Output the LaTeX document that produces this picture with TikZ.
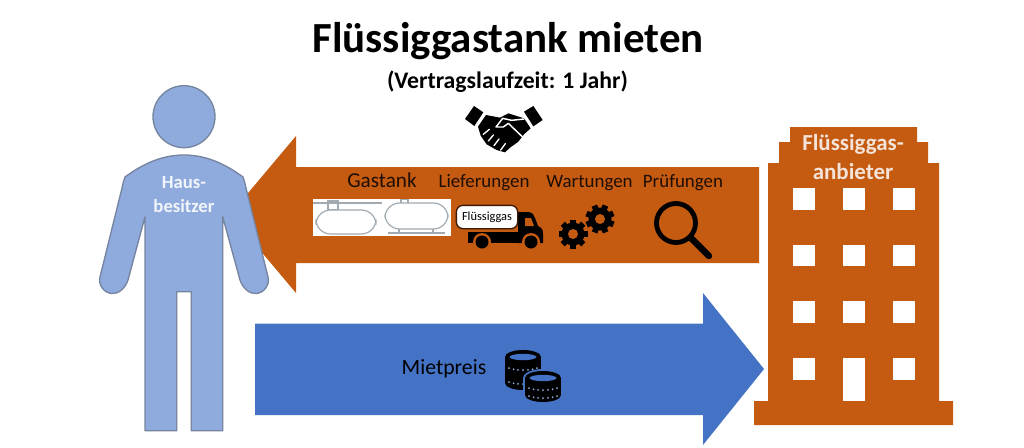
\documentclass[tikz,border=0pt]{standalone}
\usepackage{fontspec}
\setmainfont{Carlito}
\definecolor{orangefill}{HTML}{C55A11}
\definecolor{bluefill}{HTML}{4472C4}
\definecolor{personfill}{HTML}{8FAADC}
\definecolor{personline}{HTML}{76859F}
\definecolor{tankline}{HTML}{A0AAB0}
\definecolor{lightlabel}{HTML}{F3E3D8}
\tikzset{
  orangeshape/.style={fill=orangefill,draw=none},
  window/.style={fill=white,draw=none},
  person/.style={fill=personfill,draw=personline,line width=1pt,line join=round},
  icon/.style={fill=black,draw=none},
  tankdraw/.style={draw=tankline,line width=0.9pt,fill=white},
  toplabel/.style={inner sep=0pt,text=black!85!orangefill,font=\fontsize{14.2}{16}\selectfont},
  whitelabel/.style={inner sep=0pt,align=center,font=\bfseries\fontsize{14}{18}\selectfont,text=white!88!personfill},
}
\begin{document}
\begin{tikzpicture}[x=0.75pt,y=-0.75pt]
\useasboundingbox (0,0) rectangle (1024,447);
\fill[white] (0,0) rectangle (1024,447);

% Titles
\node[inner sep=0pt,font=\bfseries\fontsize{32.2}{34}\selectfont] (title) at (508,41) {Flüssiggastank mieten};
\node[inner sep=0pt,font=\bfseries\fontsize{17.8}{20}\selectfont] (subtitle) at (507.5,81.5) {(Vertragslaufzeit: 1 Jahr)};

% Handshake
\begin{scope}[shift={(450,95)},x=0.25pt,y=-0.25pt]
  \fill[icon] (45,72) -- (72,33) -- (100,52) -- (73,93) -- cycle;
  \fill[icon] (222,50) -- (250,33) -- (278,75) -- (250,94) -- cycle;
  \fill[icon] (84,95) -- (108,60) -- (150,68) -- (175,55) -- (222,70) -- (242,100) -- (222,118) -- (205,140) -- (180,158) -- (165,172) -- (140,165) -- (110,148) -- (92,122) -- cycle;
  \draw[white,line width=1.1pt,line cap=round,line join=round] (222,72) -- (185,76) -- (158,70) -- (138,96) -- (160,96) -- (175,85) -- (222,130);
  \draw[white,line width=1pt,line cap=round] (100,118) -- (118,103) (115,138) -- (130,120) (132,152) -- (147,132) (152,165) -- (166,146);
\end{scope}

% Orange arrow
\fill[orangeshape] (230,214.5) -- (296,136) -- (296,167) -- (759,167) -- (759,263) -- (296,263) -- (296,293) -- cycle;

% Blue arrow
\fill[bluefill] (255,323.5) -- (703,323.5) -- (703,293) -- (764,369) -- (703,445) -- (703,415) -- (255,415) -- cycle;

% Person
\draw[person] (184,116.7) circle (31);
\draw[person] (176.7,430.7) -- (176.7,291.7) -- (191.3,291.7) -- (191.3,430.7) -- (222.7,430.7) -- (222.7,216.7)
  -- (240,280) .. controls (243,289) and (250,294) .. (256,293.5) .. controls (264,293) and (270,285) .. (268,277)
  -- (246,188) .. controls (245,183) and (244,180) .. (243,177) .. controls (224,163) and (205,155) .. (184,155)
  .. controls (163,155) and (144,163) .. (125,177) .. controls (124,180) and (123,183) .. (122,188)
  -- (100,277) .. controls (98,285) and (104,293) .. (112,293.5) .. controls (118,294) and (125,289) .. (128,280)
  -- (145,216.7) -- (145,430.7) -- cycle;
\node[whitelabel] (owner) at (184,195) {Haus-\\besitzer};

% Building
\fill[orangeshape] (790,127) -- (917,127) -- (917,142) -- (928,142) -- (928,163) -- (939,163) -- (939,401) -- (953,401) -- (953,425) -- (754,425) -- (754,401) -- (768,401) -- (768,163) -- (779,163) -- (779,142) -- (790,142) -- cycle;
\foreach \wy in {188,244.5,301,358}{
  \foreach \wx in {793,843,893}{
    \fill[window] (\wx,\wy) rectangle ++(22,21.5);
  }
}
\fill[window] (843,358) rectangle (865,401);
\node[inner sep=0pt,align=center,font=\bfseries\fontsize{17.2}{22}\selectfont,text=lightlabel] (provider) at (853,157) {Flüssiggas-\\anbieter};

% Labels in the orange arrow
\node[toplabel,font=\fontsize{15.9}{18}\selectfont] (gastank) at (382,180.5) {Gastank};
\node[toplabel] (liefer) at (484,183) {Lieferungen};
\node[toplabel] (wart) at (589.5,183) {Wartungen};
\node[toplabel] (pruef) at (683,183) {Prüfungen};

% Tank picture
\fill[white] (313,199) rectangle (451,236);
\draw[tankdraw] (328,201) rectangle (338,210);
\draw[tankline,line width=0.9pt] (313,203) -- (382,203);
\draw[tankdraw,rounded corners=11pt] (316,210) rectangle (376,234);
\draw[tankdraw] (401,199.5) rectangle (408,204);
\draw[tankdraw,rounded corners=11pt] (385,203) rectangle (448,229);
\draw[tankline,line width=1.2pt] (388,233) -- (445,233);
\draw[tankline,line width=1pt] (399,229) -- (399,233) (433,229) -- (433,233);

% Truck
\fill[icon] (468,232) rectangle (520,243);
\fill[icon] (518,212) -- (529,212) .. controls (532,212) and (533,214) .. (535,218) -- (538,226) .. controls (542,228) and (543,230) .. (543,234) -- (543,243) -- (518,243) -- cycle;
\fill[orangefill] (525,218) -- (531,218) -- (534,226) -- (525,226) -- cycle;
\fill[orangefill] (482,242) circle (9) (531,242) circle (9);
\fill[icon] (482,242) circle (6.5) (531,242) circle (6.5);
\node[draw=black!70!orangefill,fill=white,line width=1pt,rounded corners=5pt,minimum width=46pt,minimum height=17.5pt,inner sep=0pt,font=\fontsize{9.3}{10}\selectfont] (gaslabel) at (487,217) {Flüssiggas};

% Gears
\foreach \gx/\gy/\gr in {573/234/0,600/219/22}{
  \fill[icon] (\gx,\gy) circle (11.5);
  \foreach \ga in {0,45,...,315}{
    \draw[black,line width=4.4pt] (\gx,\gy) ++(\ga+\gr:8) -- ++(\ga+\gr:6.5);
  }
  \fill[orangefill] (\gx,\gy) circle (5);
}

% Magnifier
\draw[black,line width=3.6pt] (676,223) circle (19.5);
\draw[black,line width=4.8pt,line cap=round] (690.5,237.5) -- (709,256);

% Rent label
\node[inner sep=0pt,text=black,font=\fontsize{16.3}{18}\selectfont] (rent) at (444,369) {Mietpreis};

% Coins
\newcommand{\coinstack}[4]{% x, top y, bottom y, dot rows
  \fill[icon] (#1-18,#2) rectangle (#1+18,#3);
  \fill[icon] (#1,#2) ellipse (18 and 7);
  \fill[icon] (#1,#3) ellipse (18 and 7);
  \fill[bluefill] (#1,#2) ellipse (13.5 and 3.2);
  \foreach \row in {#4}{
    \foreach \dx in {-14,-9.5,-5,0,5,9.5,14}{
      \fill[bluefill!60!white] (#1+\dx,{#2+\row+5*sqrt(1-(\dx/18)*(\dx/18))}) circle (1);
    }
  }
}
\coinstack{523}{357}{383}{8,22}
\fill[bluefill] (543,378) ellipse (20 and 9);
\fill[bluefill] (523,378) rectangle (563,396);
\coinstack{543}{378}{395}{7,15}
\end{tikzpicture}
\end{document}
